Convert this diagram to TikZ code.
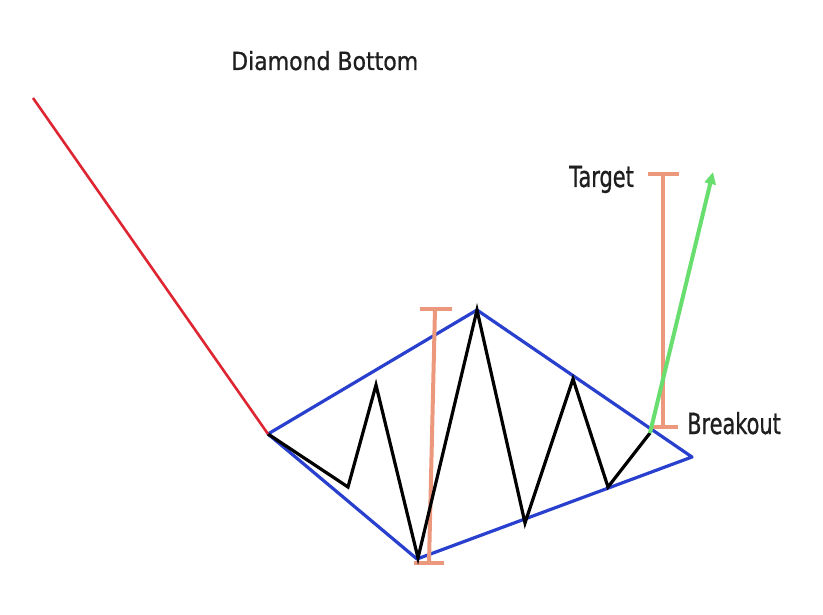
\documentclass[tikz,border=0pt]{standalone}
\usepackage{fontspec}
\setmainfont[FakeStretch=0.88,FakeBold=0.8]{DejaVu Sans}
\newfontfamily\narrowlabel[FakeStretch=0.72,FakeBold=0.9]{DejaVu Sans}
\usetikzlibrary{arrows.meta}
\definecolor{trendred}{RGB}{222,38,50}
\definecolor{diamondblue}{RGB}{40,64,205}
\definecolor{measure}{RGB}{236,152,124}
\definecolor{breakgreen}{RGB}{104,222,110}
\tikzset{
  trend/.style={draw=trendred, line width=2.6pt},
  outline/.style={draw=diamondblue, line width=3.2pt, line join=round},
  price/.style={draw=black, line width=3.2pt, line join=miter},
  measurebar/.style={draw=measure, line width=4pt},
  breakarrow/.style={draw=breakgreen, line width=4pt, -{Triangle[length=12pt,width=11pt]}},
  titlelabel/.style={font=\fontsize{25}{29}\selectfont, text=black!88, inner sep=0pt},
  label/.style={font=\narrowlabel\fontsize{29}{33}\selectfont, text=black!88, inner sep=0pt}
}
\begin{document}
\begin{tikzpicture}[x=1pt,y=-1pt]
\useasboundingbox (0,0) rectangle (823,615);
% key points
\coordinate (start) at (33,98);
\coordinate (L) at (268,434);
\coordinate (T) at (477,310);
\coordinate (R) at (692,457);
\coordinate (B) at (417,559);
\coordinate (p1) at (348,487);
\coordinate (p2) at (376,385);
\coordinate (p3) at (418,558);
\coordinate (p4) at (525,523);
\coordinate (p5) at (573,379);
\coordinate (p6) at (608,487);
\coordinate (brk) at (650,433);
\coordinate (tip) at (713,172);
% measurement bar in pattern
\coordinate (m1) at (435,309);
\coordinate (m2) at (429,563);
\coordinate (m1l) at (420,309);
\coordinate (m1r) at (452,309);
\coordinate (m2l) at (414,563);
\coordinate (m2r) at (444,563);
% target bar
\coordinate (t1) at (663,174);
\coordinate (t2) at (663,427);
\coordinate (t1l) at (648,174);
\coordinate (t1r) at (679,174);
\coordinate (t2l) at (653,427);
\coordinate (t2r) at (678,427);

\path[outline] (L) -- (T) -- (R) -- (B) -- cycle;
\path[measurebar] (m1) -- (m2);
\path[measurebar] (m1l) -- (m1r);
\path[measurebar] (m2l) -- (m2r);
\path[measurebar] (t1) -- (t2);
\path[measurebar] (t1l) -- (t1r);
\path[measurebar] (t2l) -- (t2r);
\path[price] (L) -- (p1) -- (p2) -- (p3) -- (T) -- (p4) -- (p5) -- (p6) -- (brk);
\path[breakarrow] (brk) -- (tip);
\path[trend] (start) -- (L);

\node[titlelabel, anchor=base west] (title) at (231,70) {Diamond Bottom};
\node[label, anchor=base west] (target) at (569,187) {Target};
\node[label, anchor=base west] (breakout) at (687,434) {Breakout};
\end{tikzpicture}
\end{document}
